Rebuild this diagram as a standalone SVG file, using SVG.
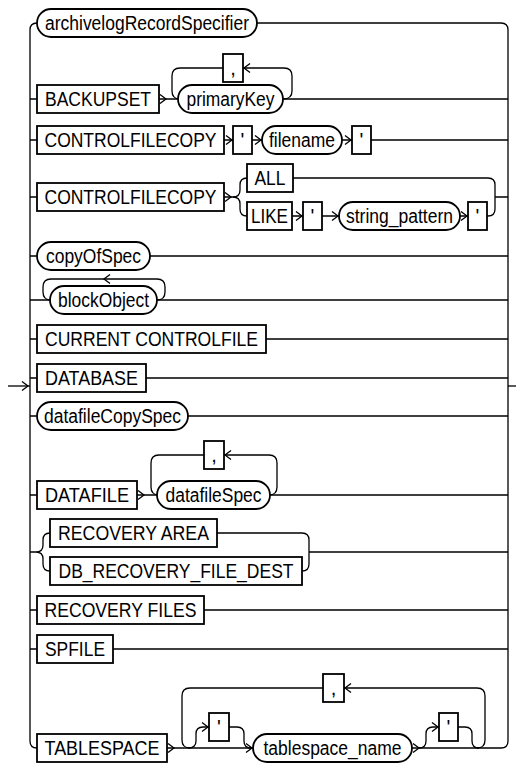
<svg xmlns="http://www.w3.org/2000/svg" xmlns:xlink="http://www.w3.org/1999/xlink" width="516" height="767" viewBox="0 0 516 767">
<defs>
<style>
.b{fill:#fff;stroke:#000;stroke-width:1.8}
.l{fill:none;stroke:#000;stroke-width:1.3}
.t{font-family:"Liberation Sans",Arial,sans-serif;font-size:20px;text-anchor:middle;fill:#000}
</style>
<path id="ar" d="M-6,-4.5 L0,0 L-6,4.5" fill="none" stroke="#000" stroke-width="1.3"/>
<path id="al" d="M6,-4.5 L0,0 L6,4.5" fill="none" stroke="#000" stroke-width="1.3"/>
</defs>
<rect width="516" height="767" fill="#fff"/>
<g id="connectors">
<path class="l" d="M8,386 L30,386"/>
<use xlink:href="#ar" x="28" y="386"/>
<path class="l" d="M508,386 L516,386"/>
<path class="l" d="M37,23 Q30,23 30,30 L30,741 Q30,748 37,748"/>
<path class="l" d="M257,23 L501,23 Q508,23 508,30 L508,741 Q508,748 501,748"/>
<path class="l" d="M30,99 L37,99 M159,99 L178,99 M283,99 L508,99"/>
<use xlink:href="#ar" x="166" y="99"/>
<path class="l" d="M223,68 L180,68 Q172,68 172,76 L172,91 Q172,99 180,99"/>
<path class="l" d="M283,99 Q292,99 292,91 L292,76 Q292,68 284,68 L243,68"/>
<use xlink:href="#al" x="244" y="68"/>
<path class="l" d="M30,140 L37,140 M224,140 L233,140 M252,140 L262,140 M342,140 L352,140 M371,140 L508,140"/>
<use xlink:href="#ar" x="232" y="140"/>
<use xlink:href="#ar" x="261" y="140"/>
<use xlink:href="#ar" x="351" y="140"/>
<path class="l" d="M30,197 L37,197 M224,197 L233,197"/>
<use xlink:href="#ar" x="231" y="197"/>
<path class="l" d="M233,197 Q240,197 240,190 L240,185 Q240,178 247,178"/>
<path class="l" d="M233,197 Q240,197 240,204 L240,209 Q240,216 247,216"/>
<path class="l" d="M293,178 L488,178 Q495,178 495,185 L495,209 Q495,216 488,216 L487,216 M495,197 L508,197"/>
<path class="l" d="M292,216 L303,216 M322,216 L339,216 M460,216 L468,216"/>
<use xlink:href="#ar" x="302" y="216"/>
<use xlink:href="#ar" x="338" y="216"/>
<use xlink:href="#ar" x="467" y="216"/>
<path class="l" d="M30,256 L37,256 M150,256 L508,256"/>
<path class="l" d="M30,300 L50,300 M157,300 L508,300"/>
<path class="l" d="M157,300 Q165,300 165,292 L165,287 Q165,279 157,279 L51,279 Q43,279 43,287 L43,292 Q43,300 51,300"/>
<use xlink:href="#al" x="104" y="279"/>
<path class="l" d="M30,339 L37,339 M266,339 L508,339"/>
<path class="l" d="M30,378 L37,378 M146,378 L508,378"/>
<path class="l" d="M30,416 L37,416 M188,416 L508,416"/>
<path class="l" d="M30,495 L37,495 M137,495 L158,495 M270,495 L508,495"/>
<use xlink:href="#ar" x="144" y="495"/>
<path class="l" d="M204,455 L159,455 Q151,455 151,463 L151,487 Q151,495 159,495"/>
<path class="l" d="M269,495 Q277,495 277,487 L277,463 Q277,455 269,455 L224,455"/>
<use xlink:href="#al" x="225" y="455"/>
<path class="l" d="M30,552 L36,552 Q43,552 43,545 L43,540 Q43,533 50,533 M36,552 Q43,552 43,559 L43,564 Q43,571 50,571"/>
<path class="l" d="M217,533 L302,533 Q309,533 309,540 L309,564 Q309,571 302,571 M309,552 L508,552"/>
<path class="l" d="M30,610 L37,610 M204,610 L508,610"/>
<path class="l" d="M30,649 L37,649 M113,649 L508,649"/>
<path class="l" d="M167,748 L253,748 M412,748 L501,748"/>
<use xlink:href="#ar" x="174" y="748"/>
<use xlink:href="#ar" x="252" y="748"/>
<use xlink:href="#ar" x="419" y="748"/>
<path class="l" d="M323,688 L190,688 Q182,688 182,696 L182,740 Q182,748 190,748"/>
<path class="l" d="M477,748 Q485,748 485,740 L485,696 Q485,688 477,688 L344,688"/>
<use xlink:href="#al" x="345" y="688"/>
<path class="l" d="M188,748 Q196,748 196,741 L196,734 Q196,727 203,727 L209,727 M229,727 L237,727 Q244,727 244,734 L244,741 Q244,748 251,748"/>
<use xlink:href="#ar" x="208" y="727"/>
<path class="l" d="M419,748 Q426,748 426,741 L426,734 Q426,727 433,727 L439,727 M458,727 L465,727 Q472,727 472,734 L472,741 Q472,748 479,748"/>
<use xlink:href="#ar" x="438" y="727"/>
</g>
<g id="n-archivelogRecordSpecifier"><rect class="b" x="37" y="9" width="220" height="28" rx="14"/><text class="t" x="147" y="30" textLength="204" lengthAdjust="spacingAndGlyphs">archivelogRecordSpecifier</text></g>
<g id="n-backupset"><rect class="b" x="37" y="85" width="122" height="28"/><text class="t" x="98" y="106" textLength="106" lengthAdjust="spacingAndGlyphs">BACKUPSET</text></g>
<g id="n-comma1"><rect class="b" x="223" y="54" width="20" height="28"/><text class="t" x="233" y="75">,</text></g>
<g id="n-primaryKey"><rect class="b" x="178" y="85" width="105" height="28" rx="14"/><text class="t" x="230.5" y="106" textLength="88" lengthAdjust="spacingAndGlyphs">primaryKey</text></g>
<g id="n-controlfilecopy1"><rect class="b" x="37" y="126" width="187" height="28"/><text class="t" x="130.5" y="147" textLength="172" lengthAdjust="spacingAndGlyphs">CONTROLFILECOPY</text></g>
<g id="n-quote1"><rect class="b" x="233" y="126" width="19" height="28"/><text class="t" x="242.5" y="147">'</text></g>
<g id="n-filename"><rect class="b" x="262" y="126" width="80" height="28" rx="14"/><text class="t" x="302" y="147" textLength="66" lengthAdjust="spacingAndGlyphs">filename</text></g>
<g id="n-quote2"><rect class="b" x="352" y="126" width="19" height="28"/><text class="t" x="361.5" y="147">'</text></g>
<g id="n-controlfilecopy2"><rect class="b" x="37" y="183" width="187" height="28"/><text class="t" x="130.5" y="204" textLength="172" lengthAdjust="spacingAndGlyphs">CONTROLFILECOPY</text></g>
<g id="n-all"><rect class="b" x="247" y="164" width="46" height="28"/><text class="t" x="270" y="185" textLength="31" lengthAdjust="spacingAndGlyphs">ALL</text></g>
<g id="n-like"><rect class="b" x="247" y="202" width="45" height="28"/><text class="t" x="269.5" y="223" textLength="37" lengthAdjust="spacingAndGlyphs">LIKE</text></g>
<g id="n-quote3"><rect class="b" x="303" y="202" width="19" height="28"/><text class="t" x="312.5" y="223">'</text></g>
<g id="n-string_pattern"><rect class="b" x="339" y="202" width="121" height="28" rx="14"/><text class="t" x="399.5" y="223" textLength="107" lengthAdjust="spacingAndGlyphs">string_pattern</text></g>
<g id="n-quote4"><rect class="b" x="468" y="202" width="19" height="28"/><text class="t" x="477.5" y="223">'</text></g>
<g id="n-copyOfSpec"><rect class="b" x="37" y="242" width="113" height="28" rx="14"/><text class="t" x="93.5" y="263" textLength="95" lengthAdjust="spacingAndGlyphs">copyOfSpec</text></g>
<g id="n-blockObject"><rect class="b" x="50" y="286" width="107" height="28" rx="14"/><text class="t" x="103.5" y="307" textLength="91" lengthAdjust="spacingAndGlyphs">blockObject</text></g>
<g id="n-current-controlfile"><rect class="b" x="37" y="325" width="229" height="28"/><text class="t" x="151.5" y="346" textLength="213" lengthAdjust="spacingAndGlyphs">CURRENT CONTROLFILE</text></g>
<g id="n-database"><rect class="b" x="37" y="364" width="109" height="28"/><text class="t" x="91.5" y="385" textLength="93" lengthAdjust="spacingAndGlyphs">DATABASE</text></g>
<g id="n-datafileCopySpec"><rect class="b" x="37" y="402" width="151" height="28" rx="14"/><text class="t" x="112.5" y="423" textLength="137" lengthAdjust="spacingAndGlyphs">datafileCopySpec</text></g>
<g id="n-datafile"><rect class="b" x="37" y="481" width="100" height="28"/><text class="t" x="87" y="502" textLength="84" lengthAdjust="spacingAndGlyphs">DATAFILE</text></g>
<g id="n-comma2"><rect class="b" x="204" y="441" width="20" height="28"/><text class="t" x="214" y="462">,</text></g>
<g id="n-datafileSpec"><rect class="b" x="157" y="481" width="113" height="28" rx="14"/><text class="t" x="213.5" y="502" textLength="96" lengthAdjust="spacingAndGlyphs">datafileSpec</text></g>
<g id="n-recovery-area"><rect class="b" x="50" y="519" width="167" height="28"/><text class="t" x="133.5" y="540" textLength="151" lengthAdjust="spacingAndGlyphs">RECOVERY AREA</text></g>
<g id="n-db-recovery-file-dest"><rect class="b" x="50" y="557" width="252" height="28"/><text class="t" x="176" y="578" textLength="235" lengthAdjust="spacingAndGlyphs">DB_RECOVERY_FILE_DEST</text></g>
<g id="n-recovery-files"><rect class="b" x="37" y="596" width="167" height="28"/><text class="t" x="120.5" y="617" textLength="152" lengthAdjust="spacingAndGlyphs">RECOVERY FILES</text></g>
<g id="n-spfile"><rect class="b" x="37" y="635" width="76" height="28"/><text class="t" x="75" y="656" textLength="60" lengthAdjust="spacingAndGlyphs">SPFILE</text></g>
<g id="n-tablespace"><rect class="b" x="37" y="734" width="130" height="28"/><text class="t" x="102" y="755" textLength="115" lengthAdjust="spacingAndGlyphs">TABLESPACE</text></g>
<g id="n-comma3"><rect class="b" x="323" y="674" width="21" height="28"/><text class="t" x="333.5" y="695">,</text></g>
<g id="n-quote5"><rect class="b" x="209" y="713" width="20" height="28"/><text class="t" x="219" y="734">'</text></g>
<g id="n-tablespace_name"><rect class="b" x="253" y="734" width="159" height="28" rx="14"/><text class="t" x="332.5" y="755" textLength="138" lengthAdjust="spacingAndGlyphs">tablespace_name</text></g>
<g id="n-quote6"><rect class="b" x="439" y="713" width="19" height="28"/><text class="t" x="448.5" y="734">'</text></g>
</svg>
